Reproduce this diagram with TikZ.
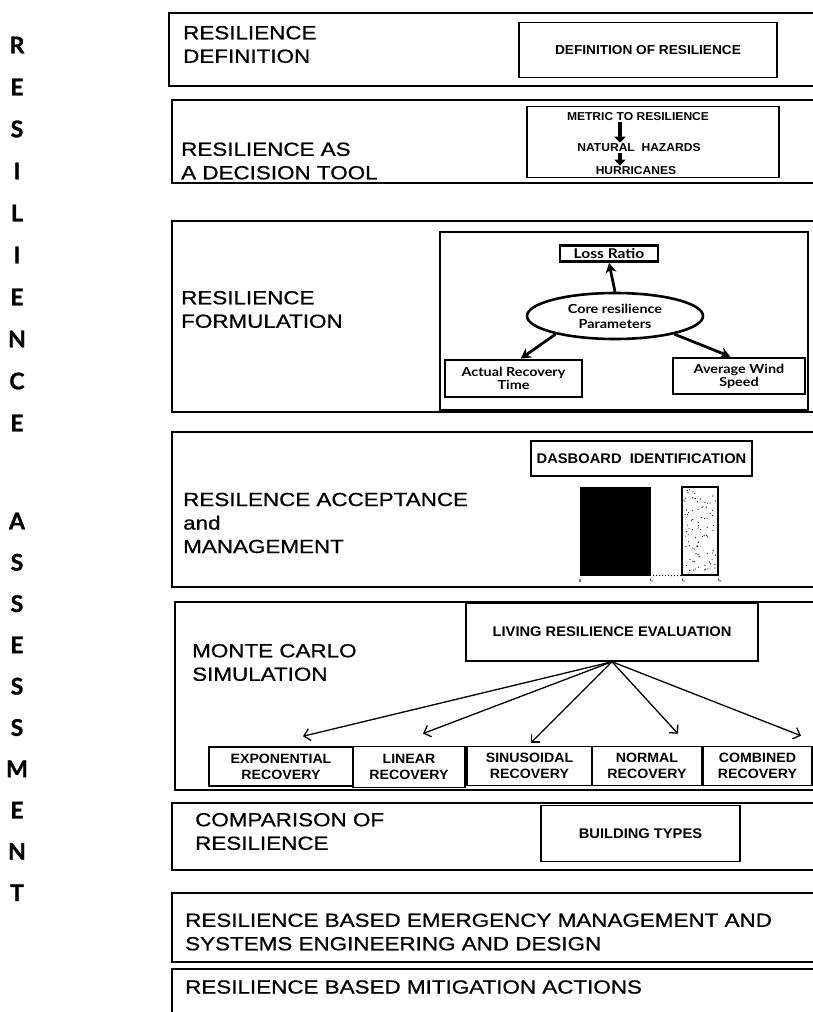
\documentclass[tikz,border=0pt]{standalone}
\usepackage{fontspec}
\setmainfont[FakeStretch=1.18,FakeBold=0.7]{Liberation Sans}
\newfontfamily\smf[FakeStretch=1.05]{Liberation Sans}
\newfontfamily\gill[FakeStretch=1.15]{Lato}
\newfontfamily\gillL[FakeBold=1.2]{Lato}
\usetikzlibrary{arrows.meta,shapes.geometric,calc}
\begin{document}
\begin{tikzpicture}[x=1pt,y=-1pt,
  frame/.style={draw,line width=1.5pt},
  big/.style={anchor=west,align=left,font=\fontsize{19}{23.5}\selectfont,inner sep=0pt},
  ibox/.style={draw,line width=1.5pt,inner sep=0pt,font=\smf\bfseries\fontsize{14}{15}\selectfont,align=center},
  small/.style={font=\smf\bfseries\fontsize{11.5}{12}\selectfont,align=center,inner sep=0pt},
  tbox/.style={draw,line width=2.8pt,inner sep=0pt,font=\gill\bfseries\fontsize{12.5}{13}\selectfont,align=center},
  rec/.style={draw,line width=1.5pt,inner sep=0pt,minimum height=39pt,font=\smf\bfseries\fontsize{13.5}{16}\selectfont,align=center},
  letter/.style={font=\gillL\bfseries\fontsize{23}{23}\selectfont,inner sep=0pt},
  blk/.style={line width=4pt,-{Triangle[length=6pt,width=11pt]}},
  tarrow/.style={line width=2.8pt,-{Stealth[length=10pt,width=11pt]}},
  thinarrow/.style={line width=1.3pt,-{Straight Barb[length=6pt,width=12pt]}},
  tinyl/.style={font=\smf\bfseries\fontsize{4}{4}\selectfont,inner sep=0pt}
]
\useasboundingbox (0,0) rectangle (813,1012);
\clip (0,0) rectangle (813,1012);

% left vertical title
\foreach \ch [count=\i from 0] in {R,E,S,I,L,I,E,N,C,E}
  \node[letter] (la\i) at (17,{45+42*\i}) {\ch};
\foreach \ch [count=\i from 0] in {A,S,S,E,S,S,M,E,N,T}
  \node[letter] (lb\i) at (17,{521+41.3*\i}) {\ch};

% 1 Resilience definition
\draw[frame] (169,13) rectangle (825,86);
\node[big] (t1) at (183,44.5) {RESILIENCE\\DEFINITION};
\node[ibox,font=\smf\bfseries\fontsize{13}{14}\selectfont,minimum width=258pt,minimum height=55pt] (def) at (648,50) {DEFINITION OF RESILIENCE};

% 2 Decision tool
\draw[frame] (172,100) rectangle (825,183);
\node[big] (t2) at (181,161) {RESILIENCE AS\\A DECISION TOOL};
\node[draw,line width=1.5pt,minimum width=252pt,minimum height=71pt] (dec) at (653,142) {};
\node[small] (m1) at (638,117) {METRIC TO RESILIENCE};
\node[small] (m2) at (639,148) {NATURAL\ \ HAZARDS};
\node[small] (m3) at (636,171) {HURRICANES};
\coordinate (ax) at (620,0);
\draw[blk] ($(m1.south -| ax)+(0,1)$) -- ($(m2.north -| ax)+(0,-1)$);
\draw[blk] ($(m2.south -| ax)+(0,1)$) -- ($(m3.north -| ax)+(0,-1)$);

% 3 Formulation
\draw[frame] (172,221) rectangle (825,412);
\node[big] (t3) at (181,309.5) {RESILIENCE\\FORMULATION};
\node[draw,line width=1.5pt,minimum width=368pt,minimum height=178pt] (form) at (624,321) {};
\node[tbox,font=\gill\bfseries\fontsize{13.5}{14}\selectfont,minimum width=98pt,minimum height=16pt] (loss) at (609,253.5) {Loss Ratio};
\node[draw,ellipse,line width=2.6pt,minimum width=176pt,minimum height=46pt,inner sep=0pt,font=\gill\bfseries\fontsize{12.5}{15}\selectfont,align=center] (core) at (615,316) {Core resilience\\Parameters};
\node[tbox,minimum width=137pt,minimum height=37pt] (act) at (513.5,378.5) {Actual Recovery\\Time};
\node[tbox,minimum width=132pt,minimum height=36pt] (avg) at (739,376) {Average Wind\\Speed};
\draw[tarrow] (core.north) -- (loss.south);
\draw[tarrow] (core.197) -- (act.70);
\draw[tarrow] (core.343) -- (avg.114);

% 4 Acceptance and management
\draw[frame] (172,432) rectangle (825,587);
\node[big] (t4) at (183,523) {RESILENCE ACCEPTANCE\\and\\MANAGEMENT};
\node[ibox,line width=2.6pt,minimum width=221pt,minimum height=35pt] (dash) at (641.5,458.5) {DASBOARD\ \ IDENTIFICATION};
\node[draw,fill=black,minimum width=70pt,minimum height=88pt,inner sep=0pt] (bar1) at (615,531) {};
\node[draw,line width=1.3pt,minimum width=36pt,minimum height=88pt,inner sep=0pt] (bar2) at (700,531) {};
\pgfmathsetseed{7}
\foreach \i in {1,...,90}
  \fill ({684+32*rnd},{489+84*rnd}) circle (0.6pt);
\draw[dotted,line width=1pt] (bar1.south east) -- (bar2.south west);
\node[tinyl] (k1) at (580,581) {0};
\node[tinyl] (k2) at (652,581) {t\textsubscript{c}};
\node[tinyl] (k3) at (684,581) {t\textsubscript{c}};
\node[tinyl] (k4) at (720,581) {t\textsubscript{h}};

% 5 Monte Carlo
\draw[frame] (175,602) rectangle (825,790);
\node[big] (t5) at (192,662.5) {MONTE CARLO\\SIMULATION};
\node[ibox,minimum width=292pt,minimum height=58pt] (liv) at (612,632) {LIVING RESILIENCE EVALUATION};
\node[rec,minimum width=144pt] (exp) at (281,766.5) {EXPONENTIAL\\RECOVERY};
\node[rec,minimum width=112pt,minimum height=41pt,line width=1.9pt] (lin) at (409,767) {LINEAR\\RECOVERY};
\node[rec,minimum width=125pt] (sin) at (529.5,766) {SINUSOIDAL\\RECOVERY};
\node[rec,minimum width=110pt] (nor) at (647,766) {NORMAL\\RECOVERY};
\node[rec,minimum width=109pt] (com) at (757.5,766) {COMBINED\\RECOVERY};
\draw[thinarrow] (liv.south) -- ($(exp.north)+(22,-10)$);
\draw[thinarrow] (liv.south) -- ($(lin.north)+(14,-12)$);
\draw[thinarrow] (liv.south) -- ($(sin.north)+(1.5,-3)$);
\draw[thinarrow] (liv.south) -- ($(nor.north)+(31,-12)$);
\draw[thinarrow] (liv.south) -- ($(com.north)+(43.5,-10)$);

% 6 Comparison
\draw[frame] (172,803) rectangle (825,870);
\node[big] (t6) at (195,831.5) {COMPARISON OF\\RESILIENCE};
\node[ibox,minimum width=199pt,minimum height=56pt] (bld) at (640.5,833.5) {BUILDING TYPES};

% 7 Emergency management
\draw[frame] (172,893) rectangle (825,962);
\node[big] (t7) at (185,932) {RESILIENCE BASED EMERGENCY MANAGEMENT AND\\SYSTEMS ENGINEERING AND DESIGN};

% 8 Mitigation
\draw[frame] (172,969) rectangle (825,1030);
\node[big] (t8) at (185,987) {RESILIENCE BASED MITIGATION ACTIONS};
\end{tikzpicture}
\end{document}
